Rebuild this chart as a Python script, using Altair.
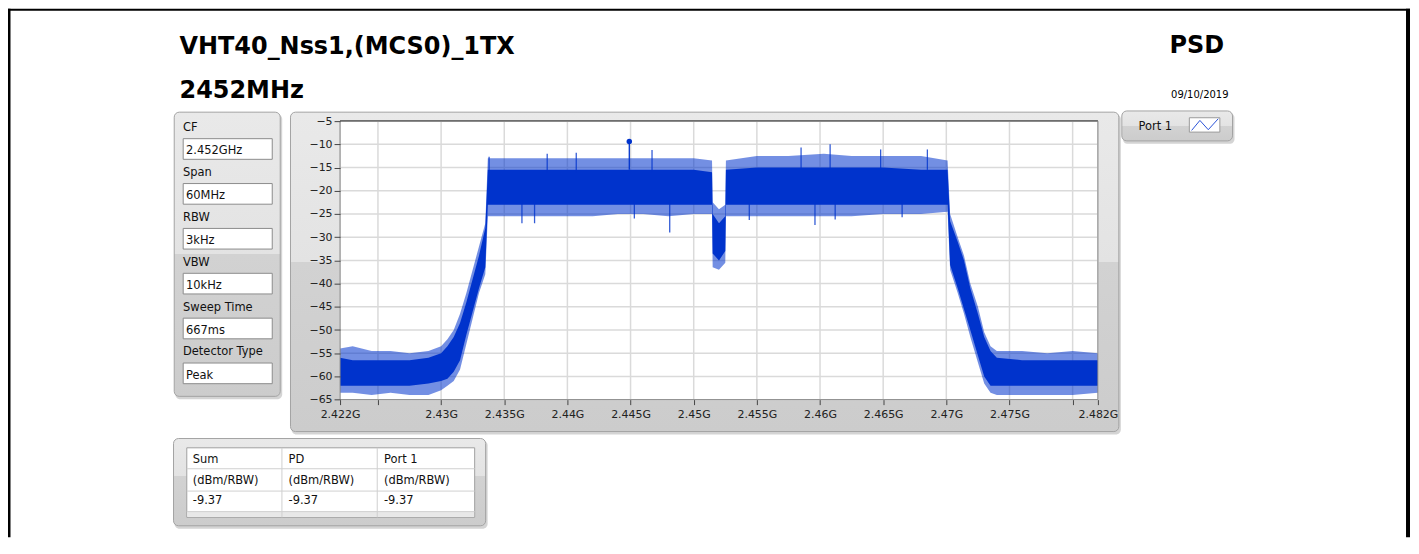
import altair as alt
import pandas as pd

# ---------------- data ----------------
freq = [2.4220, 2.4230, 2.4245, 2.4260, 2.4275, 2.4290, 2.4300, 2.4305, 2.4310, 2.4315,
        2.4320, 2.4325, 2.4330, 2.4335, 2.4337, 2.4360, 2.4380, 2.4400, 2.4420, 2.4440,
        2.4460, 2.4480, 2.4500, 2.45145, 2.4515, 2.4520, 2.4525, 2.45255, 2.4550, 2.4575,
        2.4603, 2.4625, 2.4650, 2.4680, 2.4701, 2.4703, 2.4709, 2.4714, 2.4719, 2.4725,
        2.4730, 2.4735, 2.4740, 2.4760, 2.4780, 2.4800, 2.4820]
core_lo = [-62.0, -62.0, -62.0, -62.0, -62.0, -61.5, -61.0, -60.5, -59.0, -56.5,
           -51.0, -46.0, -41.0, -36.5, -23.0, -23.0, -23.0, -23.0, -23.0, -23.0,
           -23.0, -23.0, -23.0, -23.0, -33.5, -35.0, -33.0, -23.0, -23.0, -23.0,
           -23.0, -23.0, -23.0, -23.0, -23.0, -36.0, -41.0, -45.5, -50.0, -55.5,
           -60.0, -62.0, -62.0, -62.0, -62.0, -62.0, -62.0]
core_hi = [-56.0, -56.5, -56.5, -56.5, -56.5, -56.0, -55.0, -53.5, -51.5, -48.5,
           -44.0, -39.0, -34.0, -28.0, -15.5, -15.5, -15.5, -15.5, -15.5, -15.5,
           -15.5, -15.5, -15.5, -16.0, -25.0, -27.0, -25.5, -15.5, -15.0, -15.0,
           -15.0, -15.0, -15.0, -15.5, -15.5, -26.5, -31.0, -35.0, -41.0, -46.5,
           -51.5, -54.5, -56.0, -56.5, -56.5, -56.5, -56.5]
spike_lo = [-63.5, -63.5, -64.0, -63.5, -64.0, -64.0, -63.0, -62.0, -61.0, -58.5,
            -53.0, -47.5, -42.0, -38.0, -25.5, -25.5, -25.5, -25.5, -25.5, -25.0,
            -25.0, -25.5, -25.0, -25.0, -36.5, -37.0, -35.5, -25.5, -25.5, -25.5,
            -25.5, -25.5, -25.0, -25.0, -24.5, -37.0, -42.0, -46.5, -51.5, -57.0,
            -61.5, -63.5, -64.0, -64.0, -64.0, -64.0, -63.5]
spike_hi = [-54.0, -53.5, -54.5, -54.5, -55.0, -54.5, -53.5, -52.0, -50.0, -46.5,
            -42.0, -37.0, -32.0, -27.0, -13.0, -13.0, -13.0, -13.0, -13.0, -13.0,
            -13.0, -13.0, -13.0, -13.5, -22.5, -24.0, -23.0, -13.5, -12.5, -12.5,
            -12.0, -12.5, -12.5, -12.5, -13.5, -25.0, -30.0, -34.0, -40.0, -45.0,
            -50.5, -53.5, -54.5, -54.5, -55.0, -54.5, -55.0]
# isolated tall spikes that stick out of the band (frequency, low end, high end)
spike_f = [2.4338, 2.4364, 2.4374, 2.4384, 2.4407, 2.4453, 2.4467, 2.4481,
           2.4544, 2.4585, 2.4596, 2.4608, 2.4612, 2.4648, 2.4665, 2.4685]
spike_a = [-16.0, -27.0, -27.0, -16.0, -16.0, -26.0, -16.0, -29.0,
           -26.3, -15.5, -27.4, -15.5, -26.2, -15.5, -25.7, -15.5]
spike_b = [-12.7, -22.0, -22.0, -12.0, -11.8, -22.0, -11.2, -22.0,
           -22.0, -10.7, -22.0, -10.0, -22.0, -11.1, -22.0, -11.1]
peak_freq = [2.4449]
peak_val = [-9.37]

x_ticks = [2.422, 2.425, 2.43, 2.435, 2.44, 2.445, 2.45, 2.455, 2.46, 2.465,
           2.47, 2.475, 2.48, 2.482]
y_ticks = [-5, -10, -15, -20, -25, -30, -35, -40, -45, -50, -55, -60, -65]

title_main = "VHT40_Nss1,(MCS0)_1TX"
title_freq = "2452MHz"
title_right = "PSD"
date_text = "09/10/2019"
ctrl_labels = ["CF", "Span", "RBW", "VBW", "Sweep Time", "Detector Type"]
ctrl_values = ["2.452GHz", "60MHz", "3kHz", "10kHz", "667ms", "Peak"]
legend_name = "Port 1"
table_cols = ["Sum", "PD", "Port 1"]
table_units = ["(dBm/RBW)", "(dBm/RBW)", "(dBm/RBW)"]
table_vals = ["-9.37", "-9.37", "-9.37"]

# ---------------- helpers ----------------
BLUE = "#0033cc"
FONT = "DejaVu Sans"
OX, OY = 341.0, 120.7          # page position of plot origin
PW, PH = 760, 279.3

one = pd.DataFrame({"a": [0]})


def px(v):
    return v - OX


def py(v):
    return v - OY


def rect(x1, y1, x2, y2, fill, stroke=None, sw=1.0, r=0, opacity=1.0):
    kw = dict(cornerRadius=r, opacity=opacity)
    if isinstance(fill, str) and fill == "none":
        kw["fillOpacity"] = 0
        kw["fill"] = "#ffffff"
    else:
        kw["fill"] = fill
    if stroke:
        kw["stroke"] = stroke
        kw["strokeWidth"] = sw
    return alt.Chart(one).mark_rect(**kw).encode(
        x=alt.value(px(x1)), x2=alt.value(px(x2)),
        y=alt.value(py(y1)), y2=alt.value(py(y2)))


def seg(x1, y1, x2, y2, color, sw=1.0):
    return alt.Chart(one).mark_rule(color=color, strokeWidth=sw).encode(
        x=alt.value(px(x1)), x2=alt.value(px(x2)),
        y=alt.value(py(y1)), y2=alt.value(py(y2)))


def txt(x, y, s, size=11.5, bold=False, align="left", color="#111111"):
    return alt.Chart(one).mark_text(
        text=s, align=align, baseline="alphabetic", fontSize=size,
        fontWeight="bold" if bold else "normal", font=FONT, color=color
    ).encode(x=alt.value(px(x)), y=alt.value(py(y)))


def grad(top, bottom, split=0.47, top2=None, bottom2=None):
    return alt.LinearGradient(
        gradient="linear", x1=0, x2=0, y1=0, y2=1,
        stops=[alt.GradientStop(color=top, offset=0),
               alt.GradientStop(color=top2 or top, offset=split),
               alt.GradientStop(color=bottom, offset=split),
               alt.GradientStop(color=bottom2 or bottom, offset=1)])


def panel(x1, y1, x2, y2, split=0.47):
    return [
        rect(x1 + 1, y1 + 2, x2 + 2, y2 + 3, "#b8b8b8", r=5, opacity=0.6),
        rect(x1, y1, x2, y2, grad("#e9e9e9", "#d2d2d2", split, "#e3e3e3", "#cccccc"),
             stroke="#a3a3a3", sw=1, r=5),
    ]


XS = alt.Scale(domain=[2.422, 2.482], nice=False, zero=False)
YS = alt.Scale(domain=[-65, -5], nice=False, zero=False)
XA = alt.Axis(values=x_ticks, grid=False, domain=False, tickSize=5, tickColor="#444444",
              tickWidth=1, labelFont=FONT, labelFontSize=11, labelColor="#222222",
              labelPadding=4, labelFlush=False, labelOverlap=False, zindex=1, title=None,
              labelExpr="(abs(datum.value-2.425)<1e-6 || abs(datum.value-2.48)<1e-6) ? '' : format(datum.value, '.3~f') + 'G'")
YA = alt.Axis(values=y_ticks, grid=False, domain=False, tickSize=6, tickColor="#444444",
              tickWidth=1, labelFont=FONT, labelFontSize=11, labelColor="#222222",
              labelPadding=2, labelFlush=False, labelOverlap=False, zindex=1, title=None,
              format="d")


def X(field):
    return alt.X(f"{field}:Q", scale=XS, axis=XA)


def Y(field):
    return alt.Y(f"{field}:Q", scale=YS, axis=YA)


spec = pd.DataFrame({"f": freq, "clo": core_lo, "chi": core_hi,
                     "slo": spike_lo, "shi": spike_hi})
spikes = pd.DataFrame({"f": spike_f, "a": spike_a, "b": spike_b})
peak = pd.DataFrame({"f": peak_freq, "v": peak_val, "base": [-15.5]})
xgrid = pd.DataFrame({"f": x_ticks})
ygrid = pd.DataFrame({"v": y_ticks})

layers = []

# page border lines
layers.append(rect(8, 8, 1414, 10, "#000000"))
layers.append(rect(8, 8, 10.5, 538, "#000000"))
layers.append(rect(1410, 8, 1414, 538, "#000000"))

# panels
layers += panel(291.3, 111.7, 1122, 432)
layers += panel(174.7, 111.7, 281, 396.7, split=0.5)
layers += panel(1125, 110.5, 1236, 140.5, split=0.5)
layers += panel(174, 439, 487, 526.5, split=0.43)

# plot area
layers.append(rect(OX, OY, OX + PW, OY + PH, "#ffffff"))
layers.append(alt.Chart(xgrid).mark_rule(color="#dadada", strokeWidth=1.5).encode(x=X("f")))
layers.append(alt.Chart(ygrid).mark_rule(color="#dadada", strokeWidth=1.5).encode(y=Y("v")))

# spectrum
layers.append(alt.Chart(spec).mark_area(color=BLUE, opacity=0.55).encode(
    x=X("f"), y=Y("slo"), y2="shi"))
layers.append(alt.Chart(spec).mark_area(color=BLUE, opacity=1).encode(
    x=X("f"), y=Y("clo"), y2="chi"))
layers.append(alt.Chart(spikes).mark_rule(color=BLUE, strokeWidth=1.3, opacity=0.8).encode(
    x=X("f"), y=Y("a"), y2="b"))
layers.append(alt.Chart(peak).mark_rule(color=BLUE, strokeWidth=1.3).encode(
    x=X("f"), y=Y("v"), y2="base"))
layers.append(alt.Chart(peak).mark_point(color=BLUE, filled=True, size=30, opacity=1).encode(
    x=X("f"), y=Y("v")))

# plot frame
layers.append(rect(OX, OY, OX + PW, OY + PH, "none", stroke="#8a8a8a", sw=1))
layers.append(seg(OX, OY - 0.5, OX + PW, OY - 0.5, "#6e6e6e", 1.5))

# titles
layers.append(txt(180, 53, title_main, size=24, bold=True, color="#000000"))
layers.append(txt(180, 97.5, title_freq, size=24, bold=True, color="#000000"))
layers.append(txt(1227.5, 52.5, title_right, size=24, bold=True, align="right", color="#000000"))
layers.append(txt(1232, 97, date_text, size=10, align="right", color="#000000"))

# control panel
for i, (lab, val) in enumerate(zip(ctrl_labels, ctrl_values)):
    dy = 45 * i
    layers.append(txt(183.5, 130.7 + dy, lab))
    layers.append(rect(183.7, 138.3 + dy, 273, 159 + dy, "#ffffff", stroke="#8c8c8c", sw=1))
    layers.append(txt(186.5, 154 + dy, val))

# legend
layers.append(txt(1141.7, 130, legend_name))
layers.append(rect(1192.7, 117.3, 1223.3, 131.7, "#ffffff", stroke="#9a9a9a", sw=1))
layers.append(seg(1195, 130, 1203.3, 120, "#2a52d8", 1))
layers.append(seg(1203.3, 120, 1211.7, 129.3, "#2a52d8", 1))
layers.append(seg(1211.7, 129.3, 1221.7, 118.3, "#2a52d8", 1))

# table
layers.append(rect(187.3, 448.3, 476, 518, "#ffffff", stroke="#a0a0a0", sw=1))
layers.append(rect(187.8, 512.3, 475.5, 517.5, "#e8e8e8"))
for xc in [282.7, 378.3]:
    layers.append(seg(xc, 448.3, xc, 518, "#d0d0d0", 1))
for yr in [469.3, 491.7, 512.3]:
    layers.append(seg(187.3, yr, 476, yr, "#d0d0d0", 1))
col_x = [193.3, 289.3, 385]
for cx, c, u, v in zip(col_x, table_cols, table_units, table_vals):
    layers.append(txt(cx, 463.7, c))
    layers.append(txt(cx, 485, u))
    layers.append(txt(cx, 504.3, v))

chart = alt.layer(*layers).properties(
    width=PW, height=PH,
    padding={"left": OX - 8, "top": OY - 8, "right": 1407 - (OX - 8) - PW,
             "bottom": 530 - (OY - 8) - PH},
    autosize=alt.AutoSizeParams(type="none"),
    background="#ffffff",
).configure_view(strokeWidth=0)

chart.save("out.html", embed_options={"renderer": "svg", "actions": False})
